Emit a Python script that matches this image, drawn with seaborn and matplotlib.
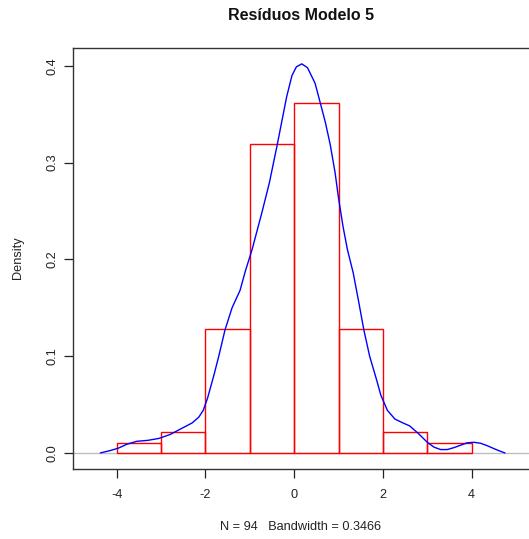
import matplotlib
matplotlib.use("Agg")
import matplotlib.pyplot as plt
import seaborn as sns
import numpy as np
import pandas as pd

# ---- data ----
bin_edges = [-4, -3, -2, -1, 0, 1, 2, 3, 4]
bin_counts = [1, 2, 12, 30, 34, 12, 2, 1]

dens_x = [-4.37, -4.15, -3.96, -3.77, -3.55, -3.3, -3.05, -2.8, -2.55, -2.3,
          -2.15, -2.05, -1.95, -1.86, -1.8, -1.7, -1.56, -1.4, -1.22, -1.1,
          -0.95, -0.73, -0.56, -0.38, -0.17, -0.05, 0.05, 0.17, 0.3, 0.47,
          0.58, 0.7, 0.81, 0.92, 1.0, 1.1, 1.2, 1.33, 1.45, 1.57,
          1.7, 1.86, 1.95, 2.1, 2.27, 2.45, 2.6, 2.8, 3.0, 3.15,
          3.3, 3.45, 3.6, 3.75, 3.9, 4.05, 4.2, 4.35, 4.5, 4.62, 4.75]
dens_y = [0.0, 0.0024, 0.005, 0.009, 0.012, 0.013, 0.015, 0.019, 0.025, 0.031,
          0.037, 0.044, 0.057, 0.072, 0.082, 0.100, 0.127, 0.150, 0.168, 0.188,
          0.210, 0.248, 0.279, 0.319, 0.368, 0.390, 0.399, 0.402, 0.398, 0.382,
          0.363, 0.342, 0.319, 0.290, 0.263, 0.234, 0.210, 0.186, 0.157, 0.127,
          0.100, 0.075, 0.060, 0.044, 0.035, 0.031, 0.028, 0.020, 0.011, 0.006,
          0.0035, 0.0035, 0.0055, 0.008, 0.0105, 0.011, 0.010, 0.0075, 0.0045, 0.0022, 0.0]

x_ticks = [-4, -2, 0, 2, 4]
y_ticks = [0.0, 0.1, 0.2, 0.3, 0.4]
title = "Resíduos Modelo 5"
x_label = "N = 94   Bandwidth = 0.3466"
y_label = "Density"

# ---- figure ----
sns.set_style("white")
plt.rcParams['font.family'] = ['Liberation Sans', 'DejaVu Sans']

W, H = 529, 539
fig = plt.figure(figsize=(W / 100, H / 100), dpi=100)
left_px, right_px, top_px, bottom_px = 72.7, 545, 47.7, 469.3
ax = fig.add_axes([left_px / W, 1 - bottom_px / H,
                   (right_px - left_px) / W, (bottom_px - top_px) / H])

x0_px, unit_px = 294.2, 44.375
ax.set_xlim((left_px - x0_px) / unit_px, (right_px - x0_px) / unit_px)
ax.set_ylim(-0.0169, 0.4187)

ax.axhline(0, color="#BEBEBE", lw=1.0, zorder=1)

centers = [(a + b) / 2 for a, b in zip(bin_edges[:-1], bin_edges[1:])]
hist_df = pd.DataFrame({"x": centers, "w": bin_counts})
sns.histplot(data=hist_df, x="x", weights="w", bins=bin_edges, stat="density",
             fill=False, element="bars", color="#FF0000", linewidth=1.0, ax=ax, zorder=2)
for p in ax.patches:
    p.set_edgecolor("#FF0000")

dens_df = pd.DataFrame({"x": dens_x, "y": dens_y})
sns.lineplot(data=dens_df, x="x", y="y", sort=False, color="#0000FF", lw=1.0, ax=ax, zorder=3)

ax.set_xticks(x_ticks)
ax.set_xticklabels([str(t) for t in x_ticks])
ax.set_yticks(y_ticks)
ax.set_yticklabels([f"{t:.1f}" for t in y_ticks])
ax.set_xlabel("")
ax.set_ylabel("")

for s in ax.spines.values():
    s.set_color("#333333")
    s.set_linewidth(1.0)

ax.tick_params(axis="both", direction="out", length=6.5, width=0.9, color="#222222",
               labelsize=9.2, labelcolor="#222222", bottom=True, left=True)
ax.tick_params(axis="x", pad=8)
ax.tick_params(axis="y", pad=4, labelrotation=90)
for lab in ax.get_yticklabels():
    lab.set_va("center")

fig.text(301 / W, 1 - 15.5 / H, title, ha="center", va="center",
         fontsize=11.5, fontweight="bold", color="#111111")
fig.text(301 / W, 1 - 526.7 / H, x_label, ha="center", va="center",
         fontsize=9.2, color="#222222")
fig.text(18 / W, 1 - 258 / H, y_label, ha="center", va="center", rotation=90,
         fontsize=9.2, color="#222222")

fig.savefig("out.png", dpi=100)
